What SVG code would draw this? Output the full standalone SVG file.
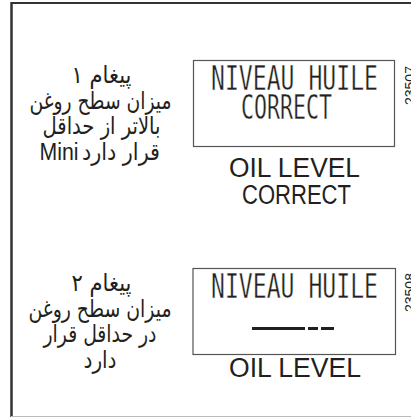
<svg xmlns="http://www.w3.org/2000/svg" width="411" height="418" viewBox="0 0 411 418">
<style>
.fa{font-family:"DejaVu Sans","Noto Sans",sans-serif;font-size:24px;fill:#231f20;text-anchor:middle}
.lat{font-family:"Liberation Sans",Arial,sans-serif;font-size:23px;fill:#231f20}
.lcd{font-family:"DejaVu Sans Mono",monospace;font-size:33px;fill:#231f20;stroke:#fff;stroke-width:0.4}
.lbl{font-family:"Liberation Sans",Arial,sans-serif;font-size:27px;fill:#231f20}
.box{fill:#fff;stroke:#555;stroke-width:1.2}
.ref{font-family:"Liberation Sans",Arial,sans-serif;font-size:14px;fill:#231f20}
</style>
<rect x="0" y="0" width="411" height="418" fill="#fff"/>
<g id="frame">
<line x1="11" y1="3" x2="411" y2="3" stroke="#333" stroke-width="2"/>
<line x1="11.5" y1="2" x2="11.5" y2="417" stroke="#333" stroke-width="2.5"/>
<line x1="11" y1="416.5" x2="411" y2="416.5" stroke="#bbb" stroke-width="1"/>
</g>
<g id="message1">
<text class="fa" x="101.5" y="83" textLength="60" lengthAdjust="spacingAndGlyphs">پیغام ۱</text>
<text class="fa" x="100.5" y="108.5" textLength="142" lengthAdjust="spacingAndGlyphs">میزان سطح روغن</text>
<text class="fa" x="101.5" y="134" textLength="118" lengthAdjust="spacingAndGlyphs">بالاتر از حداقل</text>
<text class="lat" x="39.5" y="160" textLength="39" lengthAdjust="spacingAndGlyphs">Mini</text>
<text class="fa" x="121" y="160" textLength="78" lengthAdjust="spacingAndGlyphs">قرار دارد</text>
</g>
<g id="display1">
<rect class="box" x="193.5" y="60.5" width="201" height="86"/>
<text class="lcd" x="211" y="90" textLength="167" lengthAdjust="spacingAndGlyphs">NIVEAU HUILE</text>
<text class="lcd" x="241" y="119" textLength="91" lengthAdjust="spacingAndGlyphs">CORRECT</text>
</g>
<g id="label1">
<text class="lbl" x="229" y="177" textLength="131" lengthAdjust="spacingAndGlyphs">OIL LEVEL</text>
<text class="lbl" x="242" y="204" textLength="109" lengthAdjust="spacingAndGlyphs">CORRECT</text>
</g>
<g id="ref1">
<text class="ref" transform="translate(415,105) rotate(-90)">23507</text>
</g>
<g id="message2">
<text class="fa" x="101.5" y="291" textLength="60" lengthAdjust="spacingAndGlyphs">پیغام ۲</text>
<text class="fa" x="100" y="316.5" textLength="143" lengthAdjust="spacingAndGlyphs">میزان سطح روغن</text>
<text class="fa" x="100" y="342" textLength="113" lengthAdjust="spacingAndGlyphs">در حداقل قرار</text>
<text class="fa" x="100" y="367.5" textLength="33" lengthAdjust="spacingAndGlyphs">دارد</text>
</g>
<g id="display2">
<rect class="box" x="193" y="268.5" width="202.5" height="86"/>
<text class="lcd" x="211" y="298" textLength="167" lengthAdjust="spacingAndGlyphs">NIVEAU HUILE</text>
<g stroke="#231f20" stroke-width="3">
<line x1="252" y1="328.5" x2="305" y2="328.5"/>
<line x1="308" y1="328.5" x2="318" y2="328.5"/>
<line x1="321" y1="328.5" x2="334" y2="328.5"/>
</g>
</g>
<g id="label2">
<text class="lbl" x="229" y="377" textLength="132" lengthAdjust="spacingAndGlyphs">OIL LEVEL</text>
</g>
<g id="ref2">
<text class="ref" transform="translate(415,312) rotate(-90)">23508</text>
</g>
<g id="connectors"/>
</svg>
